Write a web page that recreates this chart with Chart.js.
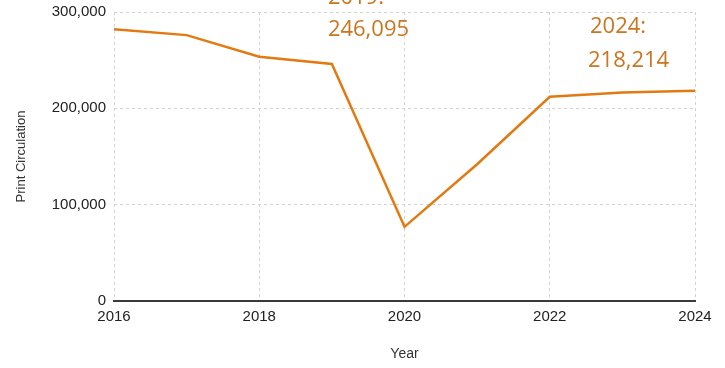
<!DOCTYPE html>
<html>
<head>
<meta charset="utf-8">
<script src="https://cdn.jsdelivr.net/npm/chart.js@4/dist/chart.umd.min.js"></script>
<style>
	html, body { margin: 0; padding: 0; background: #fff; }
	#wrap { width: 725px; height: 368px; }
</style>
</head>
<body>
<div id="wrap"><canvas id="circ" width="725" height="368"></canvas></div>
<script>
// chart data
var years = [2016, 2017, 2018, 2019, 2020, 2021, 2022, 2023, 2024];
var circulation = [282000, 276000, 253500, 246095, 77000, 142000, 212000, 216500, 218214];
var yTicks = [0, 100000, 200000, 300000];
var xTicks = [2016, 2018, 2020, 2022, 2024];
var callouts = [
	{ year: 2019, lines: ['2019:', '246,095'] },
	{ year: 2024, lines: ['2024:', '218,214'] }
];

(function() {
	'use strict';

	var orange = '#E27A12';
	var labelOrange = '#C9761F';
	var gridColor = '#d2d2d2';
	var tickFont = { family: '"Liberation Sans", Arial', size: 15 };

	// text callouts near the 2019 and 2024 points
	var calloutPlugin = {
		id: 'callouts',
		afterDraw: function(chart) {
			var ctx = chart.ctx;
			var xs = chart.scales.x;
			var top = chart.chartArea.top;
			ctx.save();
			ctx.font = '22px "Open Sans"';
			ctx.fillStyle = labelOrange;
			ctx.textBaseline = 'middle';
			ctx.textAlign = 'left';
			callouts.forEach(function(c) {
				var px = xs.getPixelForValue(c.year);
				if (c.year === 2019) {
					ctx.fillText(c.lines[0], px - 4, top - 14);
					ctx.fillText(c.lines[1], px - 4, top + 18);
				} else {
					ctx.fillText(c.lines[0], px - 105, top + 15);
					ctx.fillText(c.lines[1], px - 107, top + 49);
				}
			});
			ctx.restore();
		}
	};

	new Chart(document.getElementById('circ'), {
		type: 'line',
		data: {
			datasets: [{
				label: 'Print Circulation',
				data: years.map(function(y, i) { return { x: y, y: circulation[i] }; }),
				borderColor: orange,
				borderWidth: 2.5,
				pointRadius: 0,
				tension: 0,
				fill: false
			}]
		},
		options: {
			responsive: false,
			animation: false,
			layout: { padding: { top: 12, right: 30, left: 0, bottom: 0 } },
			plugins: {
				legend: { display: false },
				tooltip: { enabled: false }
			},
			scales: {
				x: {
					type: 'linear',
					min: 2016,
					max: 2024,
					afterFit: function(s) { s.height = 67; },
					afterBuildTicks: function(s) {
						s.ticks = xTicks.map(function(v) { return { value: v }; });
					},
					ticks: {
						padding: 7,
						color: '#222',
						font: tickFont,
						callback: function(v) { return String(v); }
					},
					grid: {
						color: gridColor,
						drawTicks: false
					},
					border: { display: true, color: '#3a3a3a', width: 2, dash: [3, 3] },
					title: {
						display: true,
						text: 'Year',
						color: '#333',
						padding: { top: 0, bottom: 5 },
						font: { family: '"Liberation Sans", Arial', size: 14 }
					}
				},
				y: {
					min: 0,
					max: 300000,
					afterFit: function(s) {
						s.width = 114;
						s.paddingTop = 0;
						s.paddingBottom = 0;
					},
					afterBuildTicks: function(s) {
						s.ticks = yTicks.map(function(v) { return { value: v }; });
					},
					ticks: {
						padding: 8,
						color: '#222',
						font: tickFont,
						callback: function(v) { return v.toLocaleString('en-US'); }
					},
					grid: {
						color: gridColor,
						drawTicks: false
					},
					border: { display: false, dash: [3, 3] },
					title: {
						display: true,
						text: 'Print Circulation',
						color: '#333',
						padding: { top: 14, bottom: 0 },
						font: { family: '"Liberation Sans", Arial', size: 13 }
					}
				}
			}
		},
		plugins: [calloutPlugin]
	});
})();
</script>
</body>
</html>
